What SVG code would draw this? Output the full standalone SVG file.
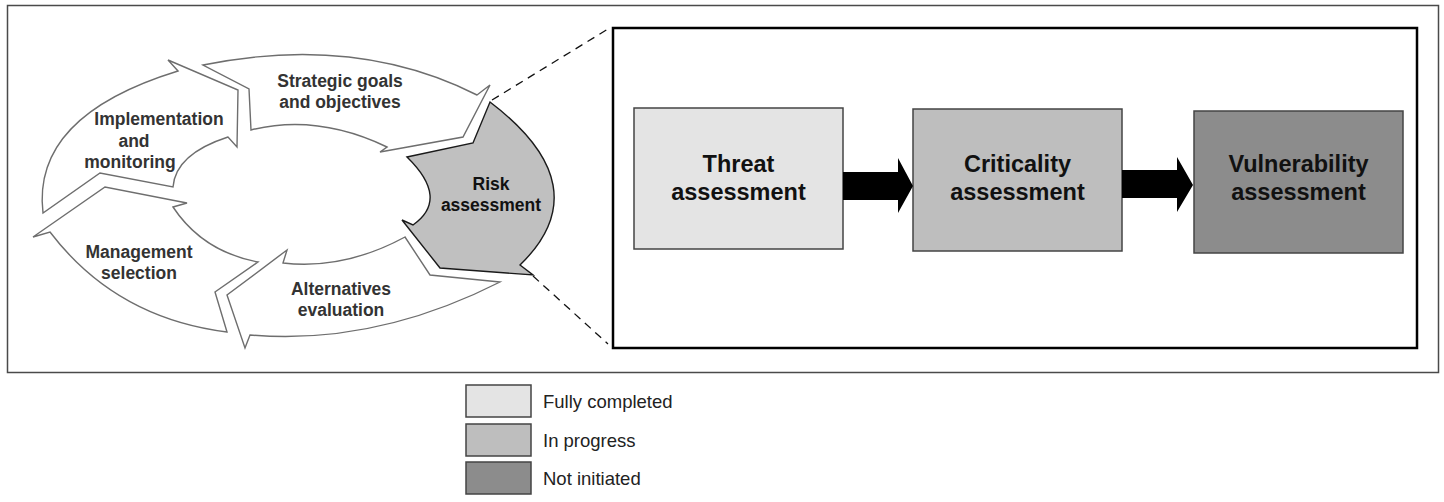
<svg xmlns="http://www.w3.org/2000/svg" width="1444" height="502" viewBox="0 0 1444 502">
<style>
.cyc{fill:#ffffff;stroke:#6e6e6e;stroke-width:1.4;stroke-linejoin:miter}
.risk{fill:#c0c0c0;stroke:#1a1a1a;stroke-width:1.4}
.lbl{font-family:"Liberation Sans",Arial,sans-serif;font-weight:bold;font-size:17.5px;fill:#333333;text-anchor:middle}
.lblk{fill:#111111}
.box{stroke:#444444;stroke-width:1.5}
.btxt{font-family:"Liberation Sans",Arial,sans-serif;font-weight:bold;font-size:23.5px;fill:#111111;text-anchor:middle}
.leg{font-family:"Liberation Sans",Arial,sans-serif;font-size:18.5px;fill:#222222}
.dash{fill:none;stroke:#111111;stroke-width:1.3;stroke-dasharray:8,6}
.arr{fill:#000000}
</style>
<rect x="7.5" y="5.5" width="1431" height="367" fill="#ffffff" stroke="#4a4a4a" stroke-width="1.5"/>
<rect x="613" y="28" width="804" height="320" fill="#ffffff" stroke="#000000" stroke-width="2.5"/>

<g id="strategic">
<path class="cyc" d="M203,65 Q356,34 477,95 L490,85 L463,137 L380,152 L387,147 Q317,113.5 251,130 L249,89 Z"/>
<text class="lbl" x="340" y="87">Strategic goals</text>
<text class="lbl" x="340" y="108">and objectives</text>
</g>
<g id="implementation">
<path class="cyc" d="M43,213 Q31.5,116 178,71 L168,60 L238,90 L237,147 L228,137 Q175.5,154 173,187 L100,173 Z"/>
<text class="lbl" x="159" y="125">Implementation</text>
<text class="lbl" x="134" y="147">and</text>
<text class="lbl" x="130" y="168">monitoring</text>
</g>
<g id="management">
<path class="cyc" d="M227,332 Q115.5,318 50,232 L33,237 L105,187 L187,203 L173,207 Q202.5,251.5 258,262 L215,292 Z"/>
<text class="lbl" x="139" y="258">Management</text>
<text class="lbl" x="139" y="279">selection</text>
</g>
<g id="alternatives">
<path class="cyc" d="M500,282 Q375,345.5 250,335 L245,348 L227,295 L287,250 L283,263 Q344,270 405,237 L430,275 Z"/>
<text class="lbl" x="341" y="295">Alternatives</text>
<text class="lbl" x="341" y="316">evaluation</text>
</g>
<g id="risk">
<path class="risk" d="M490,102 Q601,186.5 520,265 L533,275 L440,268 L402,220 L413,225 Q450,199 407,157 L473,143 Z"/>
<text class="lbl lblk" x="491" y="190">Risk</text>
<text class="lbl lblk" x="491" y="211">assessment</text>
</g>

<g id="threat">
<rect class="box" x="634" y="108" width="209" height="141" fill="#e4e4e4"/>
<text class="btxt" x="738.5" y="172">Threat</text>
<text class="btxt" x="738.5" y="200">assessment</text>
</g>
<g id="criticality">
<rect class="box" x="913" y="109" width="209" height="142" fill="#bebebe"/>
<text class="btxt" x="1017.5" y="172">Criticality</text>
<text class="btxt" x="1017.5" y="200">assessment</text>
</g>
<g id="vulnerability">
<rect class="box" x="1194" y="111" width="209" height="142" fill="#8c8c8c"/>
<text class="btxt" x="1298.5" y="172">Vulnerability</text>
<text class="btxt" x="1298.5" y="200">assessment</text>
</g>

<g id="connectors">
<path class="dash" d="M492,100 L608,29"/>
<path class="dash" d="M533,276 L608,344"/>
<polygon class="arr" points="843,172 898,172 898,158 913,186 898,213 898,200 843,200"/>
<polygon class="arr" points="1122,170 1177,170 1177,157 1193,185 1177,212 1177,198 1122,198"/>
</g>

<g id="legend-completed">
<rect class="box" x="466" y="385" width="65" height="32" fill="#e4e4e4"/>
<text class="leg" x="543" y="408">Fully completed</text>
</g>
<g id="legend-progress">
<rect class="box" x="466" y="424" width="65" height="32" fill="#bebebe"/>
<text class="leg" x="543" y="447">In progress</text>
</g>
<g id="legend-not">
<rect class="box" x="466" y="462" width="65" height="32" fill="#8c8c8c"/>
<text class="leg" x="543" y="485">Not initiated</text>
</g>
</svg>
